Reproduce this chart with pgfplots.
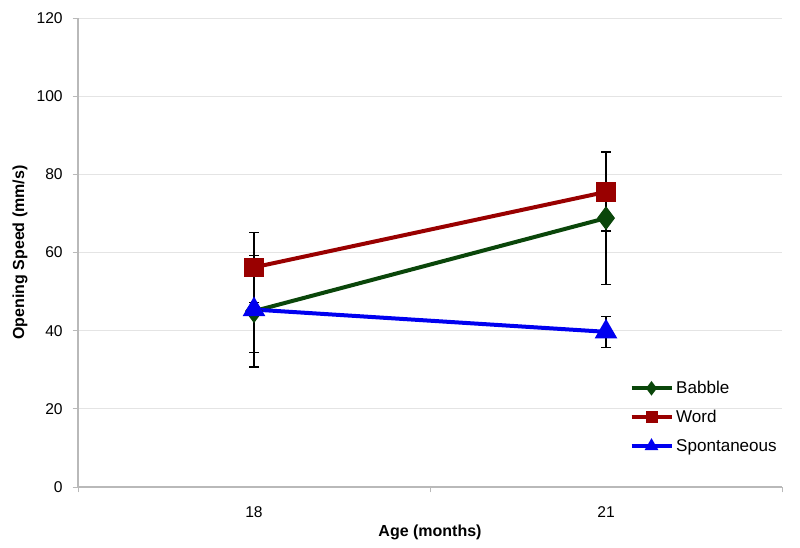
\documentclass[border=0pt]{standalone}
\usepackage{pgfplots}
\pgfplotsset{compat=1.18}
\usepackage{fontspec}
\setmainfont{Liberation Sans}
\definecolor{babble}{RGB}{10,70,10}
\definecolor{word}{RGB}{153,0,0}
\definecolor{spont}{RGB}{0,0,240}
\definecolor{gridc}{RGB}{228,228,228}
\definecolor{axc}{RGB}{185,185,185}
\begin{document}
\begin{tikzpicture}[x=1pt,y=1pt]
\begin{axis}[
  at={(0,0)}, anchor=south west,
  scale only axis, width=528pt, height=351.75pt,
  xmin=-0.5, xmax=1.5, ymin=0, ymax=120,
  xtick={0,1}, xticklabels={18,21},
  minor xtick={-0.5,0.5,1.5},
  ytick={0,20,...,120},
  axis x line*=bottom, axis y line*=left,
  axis line style={axc, line width=0.9pt},
  ymajorgrids, grid style={gridc, line width=0.7pt},
  tick align=outside,
  major tick length=4pt, minor tick length=4pt,
  xtick style={draw=none}, minor x tick style={draw=axc, line width=0.6pt},
  ytick style={axc, line width=0.6pt},
  /pgf/number format/assume math mode=true,
  tick label style={font=\fontsize{11.7}{14}\selectfont},
  yticklabel style={xshift=-4pt},
  xticklabel style={yshift=-7.5pt},
  xlabel={\textbf{Age (months)}}, ylabel={\textbf{Opening Speed (mm/s)}},
  label style={font=\fontsize{12}{14}\selectfont},
  xlabel style={yshift=2pt},
  ylabel style={yshift=0pt},
  legend style={draw=none, fill=none, at={(0.783,0.232)}, anchor=north west,
    font=\fontsize{12.8}{15}\selectfont, row sep=7pt, inner sep=0pt,
    nodes={inner xsep=2pt}},
  legend cell align=left,
  legend image code/.code={\draw[mark repeat=2, mark phase=2, mark size=3pt] plot coordinates {(0pt,0pt)(15pt,0pt)(30pt,0pt)};},
  error bars/error bar style={black, line width=0.8pt, solid},
  error bars/error mark options={rotate=90, mark size=3.75pt, black, line width=0.8pt},
]
\addplot[babble, line width=3pt, mark=diamond*, mark size=6.5pt,
  error bars/.cd, y dir=both, y explicit]
  coordinates {(0,45.0) +- (0,14.3) (1,68.8) +- (0,17.0)};
\addlegendentry{Babble}
\addplot[word, line width=3pt, mark=square*, mark size=5.8pt,
  error bars/.cd, y dir=both, y explicit]
  coordinates {(0,56.2) +- (0,8.9) (1,75.5) +- (0,10.0)};
\addlegendentry{Word}
\addplot[spont, line width=3pt, mark=triangle*, mark size=6.8pt,
  error bars/.cd, y dir=both, y explicit]
  coordinates {(0,45.4) +- (0,11.0) (1,39.7) +- (0,4.0)};
\addlegendentry{Spontaneous}
\end{axis}
\pgfresetboundingbox
\path (-58.5pt,-45.75pt) rectangle (541.5pt,365.25pt);
\end{tikzpicture}
\end{document}
